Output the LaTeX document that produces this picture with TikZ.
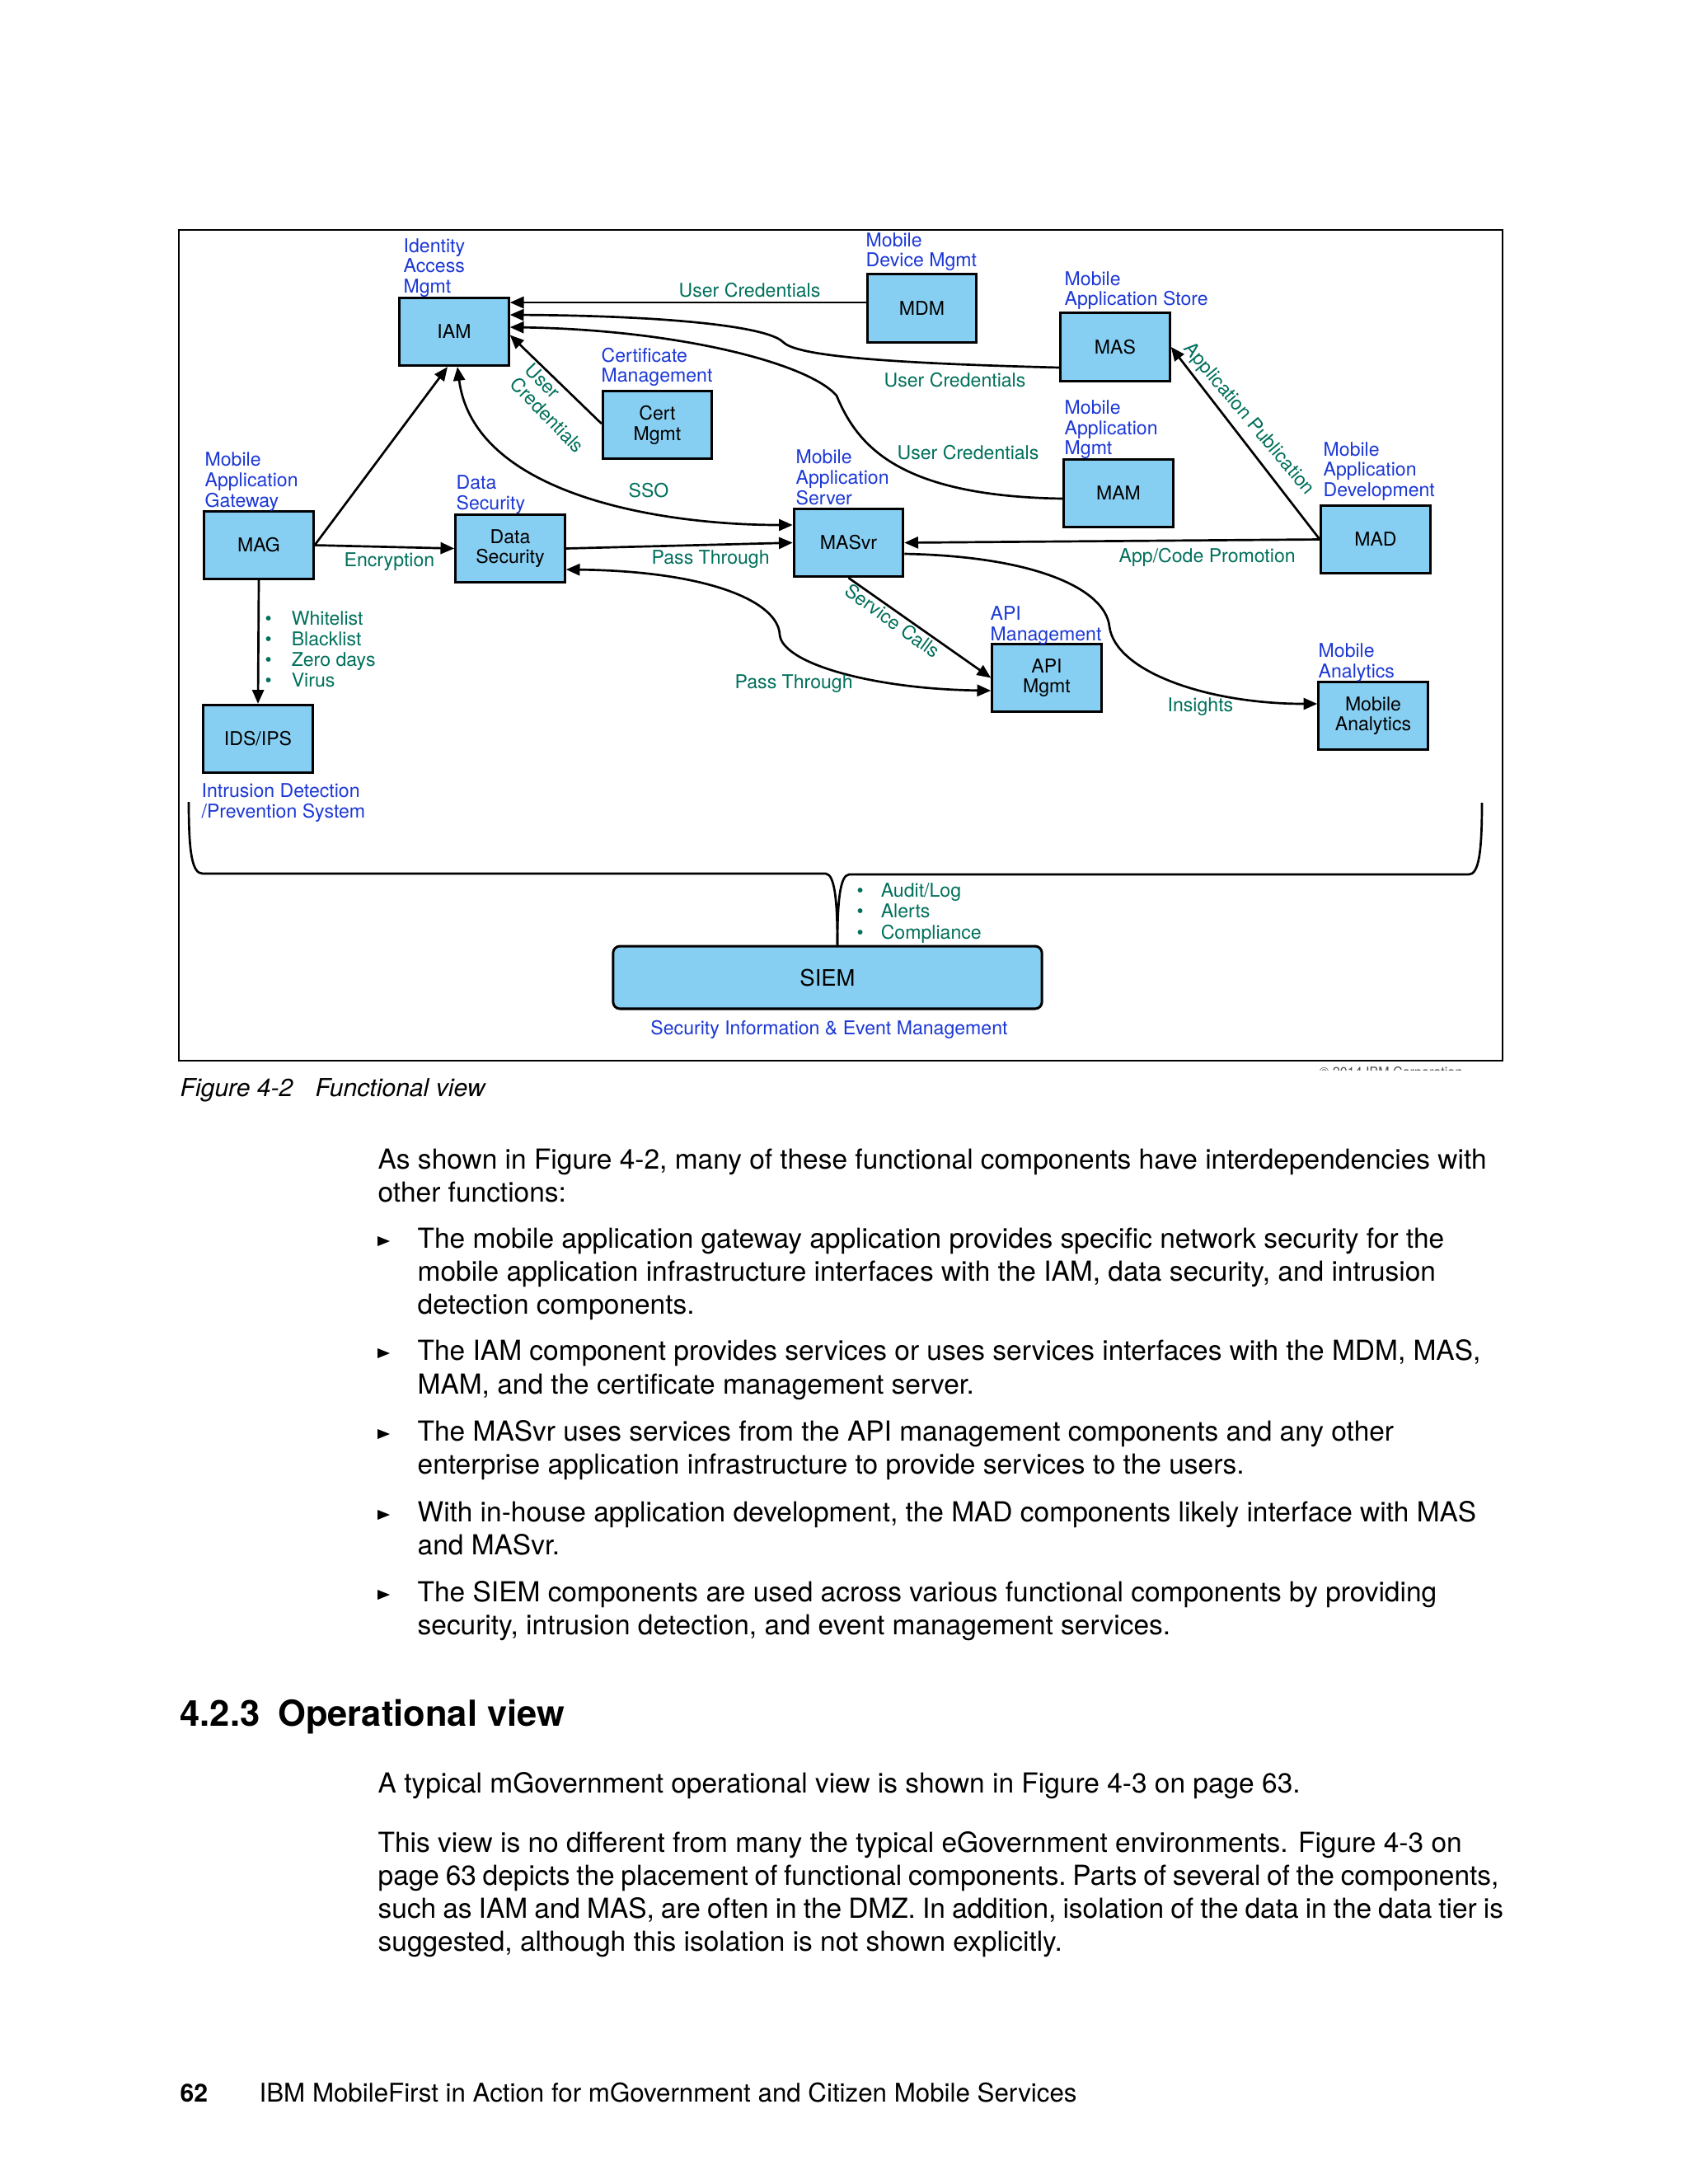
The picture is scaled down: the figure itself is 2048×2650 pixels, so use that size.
\documentclass[tikz,border=0pt]{standalone}
\usepackage{fontspec}
\setmainfont{TeX Gyre Heros}
\usetikzlibrary{arrows.meta,calc}
\definecolor{lblue}{RGB}{28,56,214}
\definecolor{lgreen}{RGB}{0,112,92}
\definecolor{boxfill}{RGB}{135,207,242}
\begin{document}
\begin{tikzpicture}[x=0.29883pt,y=-0.29883pt,
  box/.style={draw=black, line width=0.9pt, fill=boxfill, minimum width=39.6pt, minimum height=24.6pt, inner sep=0pt, align=center, font=\fontsize{6.9}{7.4}\selectfont},
  lab/.style={text=lblue, font=\fontsize{6.9}{7.4}\selectfont, inner sep=0pt, anchor=base west},
  glab/.style={text=lgreen, font=\fontsize{6.9}{7.4}\selectfont, inner sep=0pt, anchor=base west},
  conn/.style={line width=0.8pt},
  arr/.style={conn, -{Triangle[length=5pt,width=4.2pt]}},
  arrs/.style={conn, {Triangle[length=5pt,width=4.2pt]}-{Triangle[length=5pt,width=4.2pt]}},
  body/.style={font=\fontsize{10}{12}\selectfont, inner sep=0pt, anchor=base west},
  tri/.style={fill=black},
]
\useasboundingbox (0,0) rectangle (2048,2650);
\fill[white] (0,0) rectangle (2048,2650);

% frame
\draw[line width=0.8pt] (217,279) rectangle (1823,1287);

% boxes
\node[box] (IAM) at (551,402.5) {IAM};
\node[box] (MDM) at (1118.5,374) {MDM};
\node[box] (MAS) at (1353,421) {MAS};
\node[box] (CERT) at (797.5,515.5) {Cert\\Mgmt};
\node[box] (MAM) at (1357,598.5) {MAM};
\node[box] (MAG) at (314,661.5) {MAG};
\node[box] (DS) at (619,665.5) {Data\\Security};
\node[box] (MASVR) at (1029.5,658.5) {MASvr};
\node[box] (MAD) at (1669,654.5) {MAD};
\node[box] (IDS) at (313,896.5) {IDS/IPS};
\node[box] (API) at (1270,822.5) {API\\Mgmt};
\node[box] (MA) at (1666,868.5) {Mobile\\Analytics};
\node[box, minimum width=155.5pt, minimum height=22.7pt, rounded corners=2.5pt, font=\fontsize{8.2}{9}\selectfont] (SIEM) at (1004,1186) {SIEM};

% connectors
\draw[arr] ($(MDM.west)+(0,-7)$) -- ($(IAM.east)+(0,-35.5)$);
\draw[arr] ($(MAS.west)+(0,25)$) .. controls (1049,440) and (965,430) .. (950,415) .. controls (930,395) and (800,383) .. ($(IAM.east)+(0,-20.5)$);
\draw[arr] ($(MAM.west)+(0,6.5)$) .. controls (1089,602) and (1040,540) .. (1015,480) .. controls (980,440) and (820,400) .. ($(IAM.east)+(0,-5.5)$);
\draw[arr] ($(CERT.west)+(0,-1.5)$) -- ($(IAM.east)+(0,4)$);
\draw[arr] (MAG.east) -- ($(IAM.south)+(-8,0)$);
\draw[arrs] ($(IAM.south)+(4,0)$) .. controls (575,600) and (800,637) .. ($(MASVR.west)+(0,-21.5)$);
\draw[arr] (MAG.east) -- (DS.west);
\draw[arr] (DS.east) -- (MASVR.west);
\draw[arrs] ($(DS.east)+(0,25.5)$) .. controls (860,693) and (944,730) .. (946,770) .. controls (949,805) and (1059,836) .. ($(API.west)+(0,15.5)$);
\draw[arr] (MASVR.south) -- (API.west);
\draw[arr] (MAD.west) -- (MASVR.east);
\draw[arr] (MAD.west) -- (MAS.east);
\draw[arr] ($(MASVR.east)+(0,13.5)$) .. controls (1257,675) and (1341,715) .. (1346,760) .. controls (1353,815) and (1465,854) .. ($(MA.west)+(0,-14.5)$);
\draw[arr] (MAG.south) -- (IDS.north);

% brace to SIEM
\draw[conn] (229,973) .. controls (229,1035) and (233,1060) .. (246,1060) -- (1002,1060) .. controls (1013,1061) and (1016,1095) .. ($(SIEM.north)+(12,0)$);
\draw[conn] (1798,974) .. controls (1798,1035) and (1794,1061) .. (1782,1061) -- (1030,1061) .. controls (1019,1062) and (1016,1095) .. ($(SIEM.north)+(12,0)$);

% blue labels
\node[lab] (l1a) at (489,306) {Identity};
\node[lab] (l1b) at (489,330.5) {Access};
\node[lab] (l1c) at (489,355) {Mgmt};
\node[lab] (l2a) at (1050,299) {Mobile};
\node[lab] (l2b) at (1050,323.5) {Device Mgmt};
\node[lab] (l3a) at (1291,346) {Mobile};
\node[lab] (l3b) at (1291,370) {Application Store};
\node[lab] (l4a) at (729,439) {Certificate};
\node[lab] (l4b) at (729,463) {Management};
\node[lab] (l5a) at (1291,502) {Mobile};
\node[lab] (l5b) at (1291,527) {Application};
\node[lab] (l5c) at (1291,551) {Mgmt};
\node[lab] (l6a) at (248,565) {Mobile};
\node[lab] (l6b) at (248,590) {Application};
\node[lab] (l6c) at (248,615) {Gateway};
\node[lab] (l7a) at (553,593) {Data};
\node[lab] (l7b) at (553,618) {Security};
\node[lab] (l8a) at (965,562) {Mobile};
\node[lab] (l8b) at (965,587) {Application};
\node[lab] (l8c) at (965,612) {Server};
\node[lab] (l9a) at (1605,553) {Mobile};
\node[lab] (l9b) at (1605,577) {Application};
\node[lab] (l9c) at (1605,602) {Development};
\node[lab] (l10a) at (1201,752) {API};
\node[lab] (l10b) at (1201,777) {Management};
\node[lab] (l11a) at (1599,797) {Mobile};
\node[lab] (l11b) at (1599,822) {Analytics};
\node[lab] (l12a) at (244,967) {Intrusion Detection};
\node[lab] (l12b) at (244,992) {/Prevention System};
\node[lab, anchor=base] (l13) at (1006,1255) {Security Information \& Event Management};

% green labels
\node[glab] (g1) at (823,360) {User Credentials};
\node[glab] (g2) at (1072,469) {User Credentials};
\node[glab] (g3) at (1088,557) {User Credentials};
\node[glab, anchor=center, rotate=-46, align=left] (g4) at (673,495) {User\\Credentials};
\node[glab] (g5) at (762,603) {SSO};
\node[glab] (g6) at (417,687) {Encryption};
\node[glab] (g7) at (790,684) {Pass Through};
\node[glab] (g8) at (891,835) {Pass Through};
\node[glab, anchor=center, rotate=-36] (g9) at (1083,753) {Service Calls};
\node[glab] (g10) at (1357,682) {App/Code Promotion};
\node[glab, anchor=center, rotate=-50] (g11) at (1515,509) {Application Publication};
\node[glab] (g12) at (1416,863) {Insights};
\node[glab] (b1) at (321,758) {\makebox[9.6pt][l]{•}Whitelist};
\node[glab] (b2) at (321,783) {\makebox[9.6pt][l]{•}Blacklist};
\node[glab] (b3) at (321,808) {\makebox[9.6pt][l]{•}Zero days};
\node[glab] (b4) at (321,833) {\makebox[9.6pt][l]{•}Virus};
\node[glab] (b5) at (1039,1088) {\makebox[8.7pt][l]{•}Audit/Log};
\node[glab] (b6) at (1039,1113) {\makebox[8.7pt][l]{•}Alerts};
\node[glab] (b7) at (1039,1139) {\makebox[8.7pt][l]{•}Compliance};

% clipped copyright
\begin{scope}
\clip (1580,1292) rectangle (1800,1298.5);
\node[inner sep=0pt, anchor=base west, font=\fontsize{4.8}{5}\selectfont, text=black!70] (copy) at (1600,1306) {© 2014 IBM Corporation};
\end{scope}

% caption
\node[body, font=\fontsize{9}{11}\itshape] (cap1) at (218,1330) {Figure 4-2};
\node[body, font=\fontsize{9}{11}\itshape] (cap2) at (382,1330) {Functional view};

% body text
\node[body] (t1) at (458,1418) {As shown in Figure 4-2, many of these functional components have interdependencies with};
\node[body] (t2) at (458,1458) {other functions:};
\fill[tri] (458,1500) -- (458,1512) -- (473,1506) -- cycle;
\node[body] (t3) at (506,1514) {The mobile application gateway application provides specific network security for the};
\node[body] (t4) at (506,1554) {mobile application infrastructure interfaces with the IAM, data security, and intrusion};
\node[body] (t5) at (506,1594) {detection components.};
\fill[tri] (458,1636) -- (458,1648) -- (473,1642) -- cycle;
\node[body] (t6) at (506,1650) {The IAM component provides services or uses services interfaces with the MDM, MAS,};
\node[body] (t7) at (506,1691) {MAM, and the certificate management server.};
\fill[tri] (458,1734) -- (458,1746) -- (473,1740) -- cycle;
\node[body] (t8) at (506,1748) {The MASvr uses services from the API management components and any other};
\node[body] (t9) at (506,1788) {enterprise application infrastructure to provide services to the users.};
\fill[tri] (458,1832) -- (458,1844) -- (473,1838) -- cycle;
\node[body] (t10) at (506,1846) {With in-house application development, the MAD components likely interface with MAS};
\node[body] (t11) at (506,1886) {and MASvr.};
\fill[tri] (458,1929) -- (458,1941) -- (473,1935) -- cycle;
\node[body] (t12) at (506,1943) {The SIEM components are used across various functional components by providing};
\node[body] (t13) at (506,1983) {security, intrusion detection, and event management services.};

\node[body, font=\fontsize{13}{16}\bfseries] (h1) at (218,2094) {4.2.3\hspace{0.5em}Operational view};

\node[body] (t14) at (458,2175) {A typical mGovernment operational view is shown in Figure 4-3 on page 63.};
\node[body] (t15) at (458,2247) {This view is no different from many the typical eGovernment environments. Figure 4-3 on};
\node[body] (t16) at (458,2287) {\spaceskip=2.3pt\xspaceskip=2.3pt page 63 depicts the placement of functional components. Parts of several of the components,};
\node[body] (t17) at (458,2327) {\spaceskip=2.4pt\xspaceskip=2.4pt such as IAM and MAS, are often in the DMZ. In addition, isolation of the data in the data tier is};
\node[body] (t18) at (458,2367) {suggested, although this isolation is not shown explicitly.};

\node[body, font=\fontsize{9}{11}\bfseries] (f1) at (218,2550) {62};
\node[body, font=\fontsize{9.35}{11}\selectfont] (f2) at (314,2550) {IBM MobileFirst in Action for mGovernment and Citizen Mobile Services};
\end{tikzpicture}
\end{document}
